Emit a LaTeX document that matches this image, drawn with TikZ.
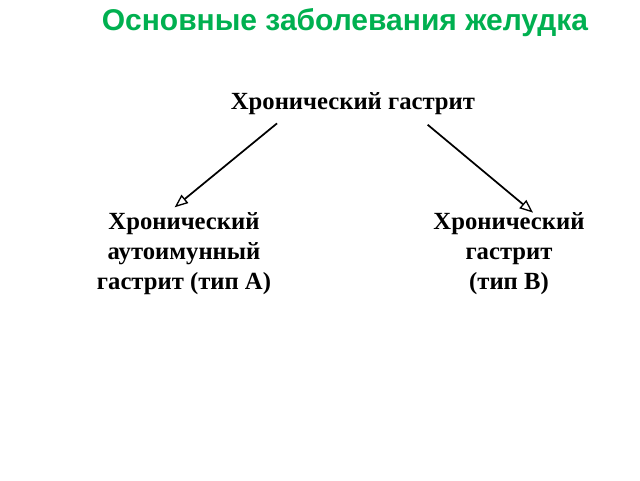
\documentclass[tikz,border=0pt]{standalone}
\usepackage{fontspec}
\setmainfont{Liberation Serif}
\newfontfamily\titlefont{Liberation Sans}
\usetikzlibrary{arrows.meta}
\definecolor{titlegreen}{RGB}{0,176,80}
\tikzset{
  lbl/.style={font=\fontsize{18.5}{22.5}\selectfont\bfseries, align=center, inner sep=0pt},
  arr/.style={line width=1.3pt, -{Triangle[open, length=10pt, width=8pt, line width=1pt]}}
}
\begin{document}
\begin{tikzpicture}[x=0.75pt,y=-0.75pt]
\useasboundingbox[fill=white] (0,0) rectangle (640,480);
\node[font=\titlefont\fontsize{22.5}{26}\selectfont\bfseries, text=titlegreen, inner sep=0pt] (title) at (345,23) {Основные заболевания желудка};
\node[lbl] (top) at (353,104) {Хронический гастрит};
\node[lbl] (left) at (184,254) {Хронический\\аутоимунный\\гастрит (тип А)};
\node[lbl] (right) at (509,254) {Хронический\\гастрит\\(тип В)};
\draw[arr] ([xshift=-57pt,yshift=-6pt]top.south) -- ([xshift=-7pt,yshift=4pt]left.north);
\draw[arr] ([xshift=56pt,yshift=-7pt]top.south) -- ([xshift=18pt,yshift=0pt]right.north);
\end{tikzpicture}
\end{document}
